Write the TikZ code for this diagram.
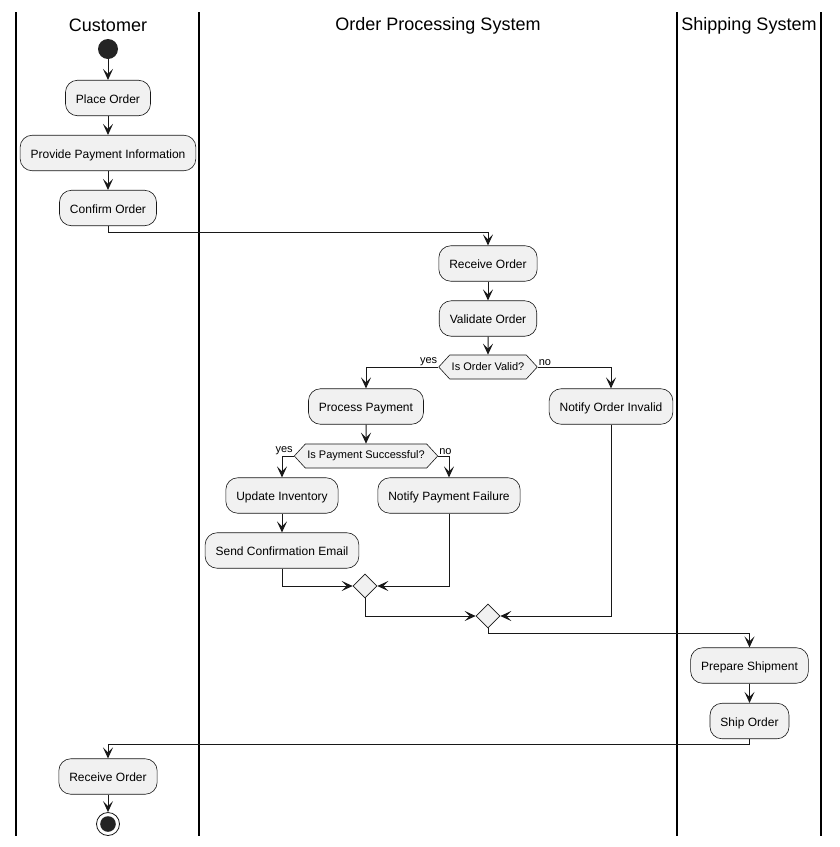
\documentclass[tikz,border=0pt]{standalone}
\usepackage{fontspec}
\setmainfont{Liberation Sans}
\usetikzlibrary{shapes.geometric,shapes.symbols,arrows.meta}

\definecolor{actfill}{HTML}{F1F1F1}
\definecolor{ink}{HTML}{181818}

\tikzset{
  act/.style={draw=ink, line width=0.6pt, fill=actfill, rounded corners=12pt,
    minimum height=35.5pt, inner xsep=10.5pt, text height=11pt, text depth=1pt,
    font=\fontsize{12}{14}\selectfont},
  decision/.style={draw=ink, line width=0.6pt, fill=actfill, shape=signal,
    signal to=east and west, signal pointer angle=95, minimum height=24pt,
    inner xsep=2pt, inner ysep=3pt, font=\fontsize{11}{13}\selectfont},
  merge/.style={draw=ink, line width=0.6pt, fill=actfill, shape=diamond,
    minimum size=24pt, inner sep=0pt},
  startnode/.style={circle, fill=ink!95, minimum size=20pt, inner sep=0pt},
  endnode/.style={circle, draw=ink, line width=0.8pt, fill=white, minimum size=23pt, inner sep=0pt},
  lane/.style={draw=black, line width=1.4pt},
  lanetitle/.style={font=\fontsize{18}{21}\selectfont},
  arr/.style={draw=ink, line width=1pt,
    -{Stealth[length=11pt, width=10pt, inset=5pt]}},
  guard/.style={font=\fontsize{11}{13}\selectfont, inner sep=1pt},
}

\begin{document}
\begin{tikzpicture}[x=1pt, y=-1pt]
  \useasboundingbox (0,0) rectangle (840,847);
  \fill[white] (0,0) rectangle (840,847);

  % swimlane separators
  \draw[lane] (16,12) -- (16,836);
  \draw[lane] (199,12) -- (199,836);
  \draw[lane] (677,12) -- (677,836);
  \draw[lane] (821,12) -- (821,836);

  % lane headings
  \node[lanetitle] (tcust) at (108,25.5) {Customer};
  \node[lanetitle] (tops) at (438,25.5) {Order Processing System};
  \node[lanetitle] (tship) at (749,25.5) {Shipping System};

  % customer lane
  \node[startnode] (start) at (108,49) {};
  \node[act] (place) at (108,98) {Place Order};
  \node[act] (ppi) at (108,153) {Provide Payment Information};
  \node[act] (confirm) at (108,208) {Confirm Order};

  % order processing lane
  \node[act] (recv1) at (488,263.5) {Receive Order};
  \node[act] (validate) at (488,318.5) {Validate Order};
  \node[decision] (valid) at (488,367) {Is Order Valid?};
  \node[act] (pay) at (366,406.5) {Process Payment};
  \node[act] (invalid) at (611,406.5) {Notify Order Invalid};
  \node[decision] (paid) at (366,456) {Is Payment Successful?};
  \node[act] (inv) at (282,495.5) {Update Inventory};
  \node[act] (fail) at (449,495.5) {Notify Payment Failure};
  \node[act] (mail) at (282,550.5) {Send Confirmation Email};
  \node[merge] (m1) at (365,586) {};
  \node[merge] (m2) at (488,616) {};

  % shipping lane
  \node[act] (prep) at (749.5,665.5) {Prepare Shipment};
  \node[act] (ship) at (749.5,721) {Ship Order};

  % back to the customer
  \node[act] (recv2) at (108,776.5) {Receive Order};
  \node[endnode] (finish) at (108,824) {};
  \fill[ink!95] (finish.center) circle (7.8pt);

  % flows
  \draw[arr] (start) -- (place);
  \draw[arr] (place) -- (ppi);
  \draw[arr] (ppi) -- (confirm);
  \draw[arr] (confirm.south) -- ++(0,6) -| (recv1.north);
  \draw[arr] (recv1) -- (validate);
  \draw[arr] (validate) -- (valid);
  \draw[arr] (valid.west) -| (pay.north);
  \draw[arr] (valid.east) -| (invalid.north);
  \node[guard, anchor=south east] (yes1) at (valid.west) {yes};
  \node[guard, anchor=south west] (no1) at (valid.east) {no};
  \draw[arr] (pay) -- (paid);
  \draw[arr] (paid.west) -| (inv.north);
  \draw[arr] (paid.east) -| (fail.north);
  \node[guard, anchor=south east] (yes2) at (paid.west) {yes};
  \node[guard, anchor=south west] (no2) at (paid.east) {no};
  \draw[arr] (inv) -- (mail);
  \draw[arr] (mail.south) |- (m1.west);
  \draw[arr] (fail.south) |- (m1.east);
  \draw[arr] (m1.south) |- (m2.west);
  \draw[arr] (invalid.south) |- (m2.east);
  \draw[arr] (m2.south) -- ++(0,5) -| (prep.north);
  \draw[arr] (prep) -- (ship);
  \draw[arr] (ship.south) -- ++(0,5) -| (recv2.north);
  \draw[arr] (recv2) -- (finish);
\end{tikzpicture}
\end{document}
